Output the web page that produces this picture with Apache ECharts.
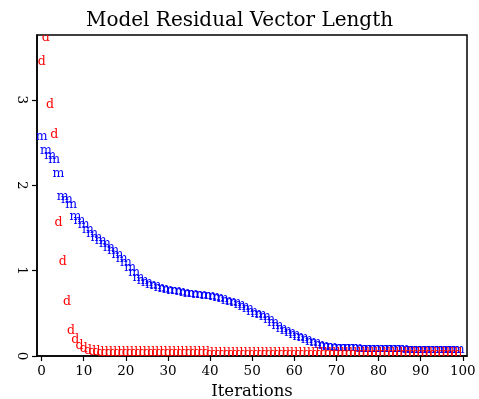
<!DOCTYPE html>
<html>
<head>
<meta charset="utf-8">
<script src="https://cdn.jsdelivr.net/npm/echarts@6/dist/echarts.min.js"></script>
<style>html,body{margin:0;padding:0;background:#fff}#c{width:479px;height:399px}</style>
</head>
<body>
<div id="c"></div>
<script>
// Model residual ("m", blue) per iteration 0..99
const modelResidual = [
  2.57, 2.41, 2.35, 2.30, 2.13, 1.87, 1.83, 1.77, 1.63, 1.59,
  1.54, 1.48, 1.43, 1.39, 1.35, 1.31, 1.27, 1.23, 1.19, 1.14,
  1.09, 1.03, 0.97, 0.92, 0.88, 0.86, 0.84, 0.82, 0.80, 0.79,
  0.78, 0.77, 0.76, 0.75, 0.74, 0.735, 0.73, 0.72, 0.715, 0.71,
  0.70, 0.69, 0.68, 0.67, 0.65, 0.64, 0.62, 0.60, 0.58, 0.55,
  0.52, 0.50, 0.48, 0.46, 0.43, 0.39, 0.35, 0.32, 0.29, 0.27,
  0.25, 0.23, 0.21, 0.19, 0.17, 0.15, 0.135, 0.12, 0.11, 0.105,
  0.10, 0.098, 0.096, 0.094, 0.092, 0.091, 0.09, 0.089, 0.088, 0.087,
  0.086, 0.085, 0.084, 0.083, 0.082, 0.081, 0.08, 0.079, 0.078, 0.078,
  0.077, 0.076, 0.075, 0.075, 0.074, 0.073, 0.072, 0.072, 0.071, 0.07
];
// Data residual ("d", red) per iteration 0..99
const dataResidual = [
  3.45, 3.73, 2.94, 2.59, 1.56, 1.10, 0.64, 0.30, 0.19, 0.12,
  0.08, 0.06, 0.05, 0.045, 0.043, 0.042, 0.041, 0.040, 0.040, 0.039,
  0.039, 0.038, 0.038, 0.037, 0.037, 0.036, 0.036, 0.036, 0.035, 0.035,
  0.035, 0.034, 0.034, 0.034, 0.034, 0.033, 0.033, 0.033, 0.033, 0.033,
  0.032, 0.032, 0.032, 0.032, 0.032, 0.031, 0.031, 0.031, 0.031, 0.031,
  0.031, 0.030, 0.030, 0.030, 0.030, 0.030, 0.030, 0.030, 0.029, 0.029,
  0.029, 0.029, 0.029, 0.029, 0.029, 0.029, 0.028, 0.028, 0.028, 0.028,
  0.028, 0.028, 0.028, 0.028, 0.028, 0.027, 0.027, 0.027, 0.027, 0.027,
  0.027, 0.027, 0.027, 0.027, 0.027, 0.026, 0.026, 0.026, 0.026, 0.026,
  0.026, 0.026, 0.026, 0.026, 0.026, 0.026, 0.025, 0.025, 0.025, 0.025
];
const xTicks = [0, 10, 20, 30, 40, 50, 60, 70, 80, 90, 100];
const yTicks = [0, 1, 2, 3];
const titleText = 'Model Residual Vector Length';
const xName = 'Iterations';

const SERIF = '"DejaVu Serif", serif';
const MARK_FONT = '12.5px "DejaVu Serif", serif';

function letterSeries(values, letter, color) {
  return {
    type: 'custom',
    clip: true,
    data: values.map((v, i) => [i, v]),
    renderItem: function (params, api) {
      const p = api.coord([api.value(0), api.value(1)]);
      return {
        type: 'text',
        x: p[0], y: p[1],
        style: {
          text: letter, fill: color, font: MARK_FONT,
          align: 'center', verticalAlign: 'middle',
          textAlign: 'center', textVerticalAlign: 'middle'
        }
      };
    }
  };
}

const chart = echarts.init(document.getElementById('c'), null, {renderer: 'canvas'});
chart.setOption({
  animation: false,
  backgroundColor: '#fff',
  title: {
    text: titleText, left: 'center', top: 6,
    textStyle: {fontFamily: SERIF, fontSize: 20, fontWeight: 'normal', color: '#000'}
  },
  grid: {
    left: 37, top: 35, width: 430, height: 321,
    containLabel: false, outerBoundsMode: 'none',
    show: true, borderColor: '#000', borderWidth: 1.5, backgroundColor: 'transparent'
  },
  xAxis: {
    type: 'value', min: -1.1, max: 101, interval: 10,
    name: xName, nameLocation: 'middle', nameGap: 24,
    nameTextStyle: {fontFamily: SERIF, fontSize: 16.5, color: '#000'},
    axisLine: {show: true, onZero: false, lineStyle: {color: '#000', width: 1.5}},
    axisTick: {show: true, length: 5, lineStyle: {color: '#000', width: 1.2}, customValues: xTicks},
    axisLabel: {fontFamily: SERIF, fontSize: 13.5, color: '#000', margin: 8, customValues: xTicks, showMinLabel: true, showMaxLabel: true},
    splitLine: {show: false}
  },
  yAxis: {
    type: 'value', min: 0, max: 3.76,
    axisLine: {show: true, onZero: false, lineStyle: {color: '#000', width: 1.5}},
    axisTick: {show: true, length: 5, lineStyle: {color: '#000', width: 1.2}, customValues: yTicks},
    axisLabel: {fontFamily: SERIF, fontSize: 13.5, color: '#000', margin: 9, rotate: -90, customValues: yTicks},
    splitLine: {show: false}
  },
  series: [
    letterSeries(modelResidual, 'm', '#0000ff'),
    letterSeries(dataResidual, 'd', '#ff0000')
  ]
});
</script>
</body>
</html>
